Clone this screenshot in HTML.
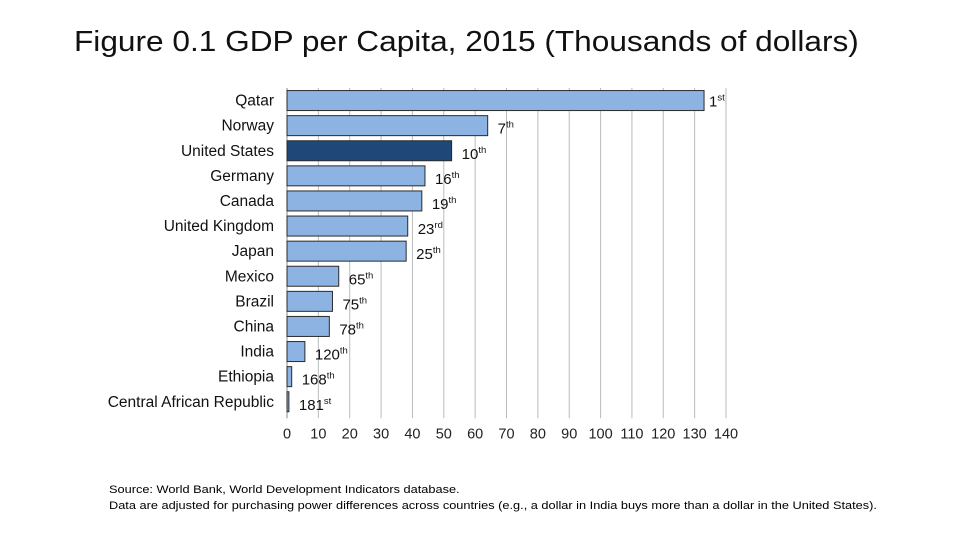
<!DOCTYPE html>
<html><head><meta charset="utf-8"><style>
body{margin:0;background:#fff;width:960px;height:540px;overflow:hidden;font-family:"Liberation Sans",sans-serif;}
#title{position:absolute;left:74px;top:26px;font-size:29px;color:#111;font-weight:300;transform-origin:0 0;transform:scaleX(1.09);white-space:nowrap}
.src{position:absolute;left:109px;font-size:11px;color:#000;transform-origin:0 0;transform:scaleX(1.16);white-space:nowrap}
</style></head><body>
<div id="title">Figure 0.1 GDP per Capita, 2015 (Thousands of dollars)</div>
<svg id="chart" width="960" height="540" style="position:absolute;left:0;top:0"></svg>
<div class="src" style="top:484px">Source: World Bank, World Development Indicators database.</div>
<div class="src" style="top:500px">Data are adjusted for purchasing power differences across countries (e.g., a dollar in India buys more than a dollar in the United States).</div>
<script>
const countries=["Qatar","Norway","United States","Germany","Canada","United Kingdom","Japan","Mexico","Brazil","China","India","Ethiopia","Central African Republic"];
const values=[133,64,52.5,44,43,38.5,38,16.5,14.5,13.5,5.7,1.5,0.6];
const rankNum=["1","7","10","16","19","23","25","65","75","78","120","168","181"];
const rankSuf=["st","th","th","th","th","rd","th","th","th","th","th","th","st"];
const ticks=[0,10,20,30,40,50,60,70,80,90,100,110,120,130,140];
const NS="http://www.w3.org/2000/svg";
const svg=document.getElementById('chart');
const x0=287,x1=726,top0=88,rowH=25.1;
const xs=v=>x0+(v/140)*(x1-x0);
const yc=i=>top0+rowH*(i+0.5);
const bottom=top0+rowH*countries.length;
function mk(t,a){const e=document.createElementNS(NS,t);for(const k in a)e.setAttribute(k,a[k]);svg.appendChild(e);return e;}
ticks.forEach(t=>{
 const g=mk('line',{x1:xs(t),x2:xs(t),y1:top0,y2:bottom+4,stroke:t===0?'#888':'#bbb','stroke-width':1});
 
 
 const l=mk('text',{x:xs(t),y:bottom+24,'text-anchor':'middle','font-size':14.5,fill:'#222'});
 l.textContent=t;
 
 
});
countries.forEach((c,i)=>{
 const y=yc(i);
 const r=mk('rect',{x:x0,y:y-10,width:Math.max(1,xs(values[i])-x0),height:20,fill:i===2?'#1f4777':'#8db3e2',stroke:'#2b2b2b','stroke-width':1});
 
 
 const l=mk('text',{x:274,y:y+5,'text-anchor':'end','font-size':15.5,fill:'#111'});
 l.textContent=c;
 
 
 const lx=xs(values[i])+(i===0?5:10);
 const rt=mk('text',{x:lx,y:y+(i===0?6:8),'font-size':15,fill:'#111'});
 
 
 rt.textContent=rankNum[i];
 const s=document.createElementNS(NS,'tspan');s.setAttribute('font-size',9.5);s.setAttribute('dy',-6);s.textContent=rankSuf[i];rt.appendChild(s);
});
</script>
</body></html>
